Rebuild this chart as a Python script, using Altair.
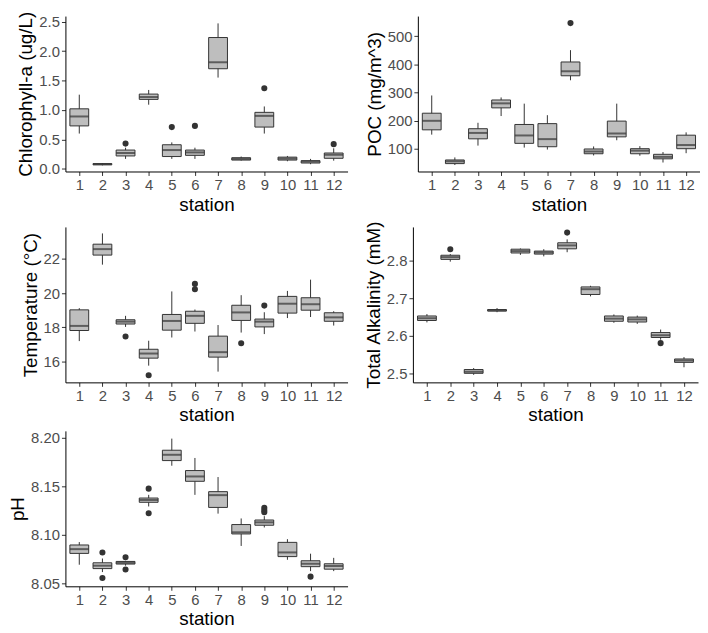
"""Boxplots of water chemistry by station (5 panels)."""

import altair as alt
import pandas as pd

STATIONS = list(range(1, 13))

# Chlorophyll-a (ug/L): whisker low, q1, median, q3, whisker high
CHL_LO = [0.60, 0.06, 0.17, 1.09, 0.17, 0.17, 1.55, 0.14, 0.60, 0.13, 0.08, 0.14]
CHL_Q1 = [0.73, 0.07, 0.22, 1.18, 0.21, 0.23, 1.70, 0.15, 0.71, 0.15, 0.10, 0.18]
CHL_MED = [0.89, 0.08, 0.27, 1.22, 0.32, 0.28, 1.81, 0.17, 0.90, 0.175, 0.125, 0.24]
CHL_Q3 = [1.02, 0.09, 0.32, 1.27, 0.41, 0.32, 2.23, 0.19, 0.96, 0.20, 0.14, 0.27]
CHL_HI = [1.26, 0.10, 0.36, 1.34, 0.45, 0.36, 2.47, 0.21, 1.06, 0.22, 0.17, 0.35]
CHL_OUT_ST = [3, 5, 6, 9, 12]
CHL_OUT = [0.43, 0.71, 0.73, 1.37, 0.42]

# POC (mg/m^3)
POC_LO = [151, 43, 112, 217, 105, 98, 344, 77, 131, 76, 52, 85]
POC_Q1 = [168, 48, 136, 246, 120, 108, 360, 83, 143, 83, 65, 101]
POC_MED = [200, 56, 157, 262, 148, 135, 376, 91, 155, 94, 72, 114]
POC_Q3 = [227, 61, 172, 274, 187, 190, 409, 100, 199, 101, 81, 149]
POC_HI = [290, 70, 193, 283, 261, 220, 451, 109, 261, 110, 89, 159]
POC_OUT_ST = [7]
POC_OUT = [547]

# Temperature (°C)
TEMP_LO = [17.19, 21.67, 18.02, 15.75, 17.40, 17.75, 15.40, 17.69, 17.60, 18.54, 18.60, 18.10]
TEMP_Q1 = [17.81, 22.23, 18.19, 16.19, 17.83, 18.23, 16.25, 18.40, 18.02, 18.83, 19.00, 18.35]
TEMP_MED = [18.08, 22.58, 18.33, 16.46, 18.37, 18.67, 16.54, 18.87, 18.33, 19.38, 19.35, 18.58]
TEMP_Q3 = [19.02, 22.87, 18.44, 16.71, 18.75, 18.94, 17.48, 19.29, 18.48, 19.81, 19.73, 18.85]
TEMP_HI = [19.12, 23.50, 18.67, 17.21, 20.10, 19.04, 18.13, 19.88, 18.88, 20.13, 20.79, 18.94]
TEMP_OUT_ST = [3, 4, 6, 6, 8, 9]
TEMP_OUT = [17.46, 15.19, 20.54, 20.23, 17.06, 19.27]

# Total Alkalinity (mM)
TA_LO = [2.636, 2.797, 2.497, 2.663, 2.815, 2.811, 2.822, 2.705, 2.635, 2.632, 2.590, 2.517]
TA_Q1 = [2.641, 2.803, 2.501, 2.666, 2.820, 2.817, 2.831, 2.710, 2.639, 2.637, 2.596, 2.530]
TA_MED = [2.647, 2.809, 2.505, 2.668, 2.825, 2.821, 2.840, 2.724, 2.646, 2.644, 2.602, 2.535]
TA_Q3 = [2.653, 2.814, 2.511, 2.670, 2.830, 2.825, 2.847, 2.730, 2.653, 2.650, 2.609, 2.539]
TA_HI = [2.658, 2.817, 2.515, 2.674, 2.832, 2.830, 2.856, 2.733, 2.657, 2.654, 2.617, 2.544]
TA_OUT_ST = [2, 7, 11]
TA_OUT = [2.830, 2.874, 2.581]

# pH
PH_LO = [8.069, 8.0614, 8.068, 8.1292, 8.1713, 8.1412, 8.1218, 8.0884, 8.1075, 8.0741, 8.0624, 8.0624]
PH_Q1 = [8.0807, 8.065, 8.0697, 8.1335, 8.1766, 8.1552, 8.1282, 8.1008, 8.1098, 8.0774, 8.067, 8.0644]
PH_MED = [8.0851, 8.068, 8.071, 8.1359, 8.1826, 8.1602, 8.1409, 8.1025, 8.1128, 8.0817, 8.070, 8.0677]
PH_Q3 = [8.0894, 8.071, 8.0724, 8.1379, 8.1873, 8.1663, 8.1445, 8.1105, 8.1152, 8.0921, 8.0731, 8.070]
PH_HI = [8.0924, 8.0754, 8.073, 8.1412, 8.1993, 8.1793, 8.1596, 8.1168, 8.1192, 8.0954, 8.0804, 8.0761]
PH_OUT_ST = [2, 2, 3, 3, 4, 4, 9, 9, 9, 11]
PH_OUT = [8.0817, 8.0553, 8.0767, 8.064, 8.1476, 8.1222, 8.1278, 8.1252, 8.1232, 8.0567]

BOX_FILL = '#BEBEBE'
LINE = '#333333'
BOX_W = 19


def box_panel(lo, q1, med, q3, hi, out_st, out_val, title, domain, ticks, fmt, width, height=157):
    stats = pd.DataFrame({'station': STATIONS, 'lo': lo, 'q1': q1,
                          'med': med, 'q3': q3, 'hi': hi})
    outl = pd.DataFrame({'station': out_st, 'value': out_val})

    x = alt.X('station:O', title='station',
              scale=alt.Scale(type='point', padding=0.6),
              axis=alt.Axis(labelAngle=0))
    yscale = alt.Scale(domain=domain, nice=False, zero=False)
    yaxis = alt.Axis(values=ticks, format=fmt, labelOverlap=False)

    base = alt.Chart(stats)
    whisk = base.mark_rule(color=LINE, strokeWidth=1).encode(
        x=x, y=alt.Y('lo:Q', title=title, scale=yscale, axis=yaxis), y2='hi')
    box = base.mark_bar(size=BOX_W, fill=BOX_FILL, stroke=LINE, strokeWidth=1).encode(
        x=x, y=alt.Y('q1:Q', title=title, scale=yscale, axis=yaxis), y2='q3')
    median = base.mark_tick(color=LINE, thickness=2, size=BOX_W).encode(
        x=x, y=alt.Y('med:Q', title=title, scale=yscale, axis=yaxis))
    dots = alt.Chart(outl).mark_circle(size=38, color=LINE, opacity=1).encode(
        x=x, y=alt.Y('value:Q', title=title, scale=yscale, axis=yaxis))
    return alt.layer(whisk, box, median, dots).properties(width=width, height=height)


chl = box_panel(CHL_LO, CHL_Q1, CHL_MED, CHL_Q3, CHL_HI, CHL_OUT_ST, CHL_OUT,
                'Chlorophyll-a (ug/L)', [-0.044, 2.594], [0, 0.5, 1.0, 1.5, 2.0, 2.5], '.1f', 285)
poc = box_panel(POC_LO, POC_Q1, POC_MED, POC_Q3, POC_HI, POC_OUT_ST, POC_OUT,
                'POC (mg/m^3)', [20, 572], [100, 200, 300, 400, 500], 'd', 285)
temp = box_panel(TEMP_LO, TEMP_Q1, TEMP_MED, TEMP_Q3, TEMP_HI, TEMP_OUT_ST, TEMP_OUT,
                 'Temperature (°C)', [14.77, 23.88], [16, 18, 20, 22], 'd', 285)
ta = box_panel(TA_LO, TA_Q1, TA_MED, TA_Q3, TA_HI, TA_OUT_ST, TA_OUT,
               'Total Alkalinity (mM)', [2.477, 2.889], [2.5, 2.6, 2.7, 2.8], '.1f', 288)
ph = box_panel(PH_LO, PH_Q1, PH_MED, PH_Q3, PH_HI, PH_OUT_ST, PH_OUT,
               'pH', [8.0467, 8.2073], [8.05, 8.10, 8.15, 8.20], '.2f', 285)

chart = alt.concat(
    alt.hconcat(chl, poc, spacing=17),
    alt.hconcat(temp, ta, spacing=17),
    ph,
    columns=1,
    spacing=6,
    align='none',
).configure(
    font='Liberation Sans',
    padding=0,
).configure_view(
    stroke=None,
).configure_axis(
    grid=False,
    labelOverlap=False,
    domainColor='#000000',
    domainWidth=1,
    tickColor='#333333',
    tickSize=4,
    labelColor='#4D4D4D',
    labelFontSize=15,
    titleFontSize=19,
    titleFontWeight='normal',
    titleColor='#000000',
    labelPadding=2,
    titlePadding=3,
)

chart.save('out.html', embed_options={'renderer': 'svg', 'actions': False})
